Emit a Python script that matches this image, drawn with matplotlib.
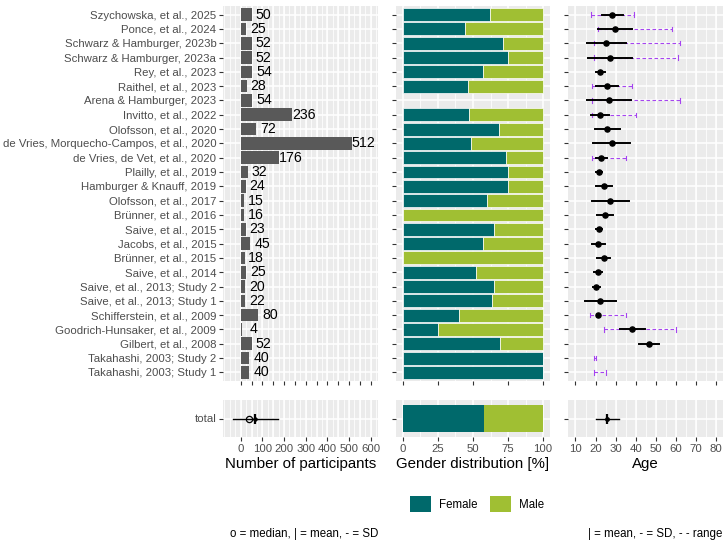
import matplotlib
matplotlib.use("Agg")
import matplotlib.pyplot as plt
import numpy as np
from matplotlib.patches import Patch
from matplotlib.ticker import NullFormatter

plt.rcParams['font.family'] = ['Liberation Sans', 'DejaVu Sans']

studies = [
    "Szychowska, et al., 2025", "Ponce, et al., 2024", "Schwarz & Hamburger, 2023b",
    "Schwarz & Hamburger, 2023a", "Rey, et al., 2023", "Raithel, et al., 2023",
    "Arena & Hamburger, 2023", "Invitto, et al., 2022", "Olofsson, et al., 2020",
    "de Vries, Morquecho-Campos, et al., 2020", "de Vries, de Vet, et al., 2020",
    "Plailly, et al., 2019", "Hamburger & Knauff, 2019", "Olofsson, et al., 2017",
    "Brünner, et al., 2016", "Saive, et al., 2015", "Jacobs, et al., 2015",
    "Brünner, et al., 2015", "Saive, et al., 2014", "Saive, et al., 2013; Study 2",
    "Saive, et al., 2013; Study 1", "Schifferstein, et al., 2009",
    "Goodrich-Hunsaker, et al., 2009", "Gilbert, et al., 2008",
    "Takahashi, 2003; Study 2", "Takahashi, 2003; Study 1",
]
participants = [50, 25, 52, 52, 54, 28, 54, 236, 72, 512, 176, 32, 24, 15, 16, 23,
                45, 18, 25, 20, 22, 80, 4, 52, 40, 40]
female_pct = [62, 44, 71.2, 75, 57.4, 46.4, np.nan, 47.5, 68.7, 48.8, 73.3, 75, 75,
              60, 0, 65.2, 57.1, 0, 52, 65, 63.6, 40, 25, 69.2, 100, 100]
age_mean = [28.4, 29.7, 25.2, 27.0, 22.4, 25.5, 26.7, 22.2, 25.9, 28.0, 22.9, 21.7,
            24.1, 27.4, 24.6, 21.6, 21.4, 24.1, 21.2, 20.4, 22.4, 21.1, 38.3, 46.5,
            np.nan, np.nan]
age_sd = [5.4, 8.6, 9.7, 10.9, 2.1, 5.4, 11.0, 4.7, 6.0, 9.1, 2.8, 1.6, 4.0, 9.2,
          4.0, 1.5, 3.4, 3.3, 2.1, 1.8, 7.9, np.nan, 6.2, 4.8, np.nan, np.nan]
age_min = [17.5, 21, 19, 19, np.nan, 18, 18, 18, np.nan, np.nan, 18, np.nan, np.nan,
           np.nan, np.nan, np.nan, np.nan, np.nan, np.nan, np.nan, np.nan, 17, 24,
           np.nan, 19, 19]
age_max = [39, 58, 62, 61, np.nan, 38, 62, 40, np.nan, np.nan, 35, np.nan, np.nan,
           np.nan, np.nan, np.nan, np.nan, np.nan, np.nan, np.nan, np.nan, 35, 60,
           np.nan, 20, 25]
total_female_pct = 57.8
total_age_mean = 25.8
total_age_sd = 5.7

FEMALE = "#00696B"
MALE = "#A0BF33"
BG = "#EBEBEB"
TXT = "#4D4D4D"
TICK = "#333333"
RANGE_COL = "#A645F0"
LAB = 8.2

W, H = 726, 543
fig = plt.figure(figsize=(W / 100, H / 100), dpi=100)


def ax_px(x0, y0, x1, y1):
    return fig.add_axes([x0 / W, 1 - y1 / H, (x1 - x0) / W, (y1 - y0) / H])


def style(ax, xlim, ticks, grid_major, grid_minor, ylim, yticks, ylabels=None,
          xlabels=None):
    ax.set_facecolor(BG)
    for s in ax.spines.values():
        s.set_visible(False)
    ax.set_xlim(*xlim)
    ax.set_ylim(*ylim)
    for m in grid_minor:
        ax.axvline(m, color="white", lw=0.55, zorder=0)
    for m in grid_major:
        ax.axvline(m, color="white", lw=1.1, zorder=0)
    for yy in yticks:
        ax.axhline(yy, color="white", lw=1.1, zorder=0)
    ax.set_xticks(ticks)
    if xlabels is None:
        ax.xaxis.set_major_formatter(NullFormatter())
    else:
        ax.set_xticklabels(xlabels)
    ax.set_yticks(yticks)
    if ylabels is None:
        ax.yaxis.set_major_formatter(NullFormatter())
    else:
        ax.set_yticklabels(ylabels)
    ax.tick_params(axis="both", length=2.8, width=0.8, color=TICK, labelcolor=TXT,
                   labelsize=LAB, pad=2.0)


n = len(studies)
ypos = np.arange(n)[::-1]
ylim_top = (-0.6, n - 1 + 0.6)
ylim_bot = (-0.6, 0.6)

# ---------- Panel 1: participants ----------
p_xlim = (-81.5, 633.5)
p_major = np.arange(0, 601, 50)
p_minor = np.arange(-75, 626, 25)
ax1 = ax_px(223, 6, 378, 381)
style(ax1, p_xlim, p_major, p_major, p_minor, ylim_top, ypos, ylabels=studies)
ax1.barh(ypos, participants, height=0.88, color="#595959", zorder=2)
for yy, v in zip(ypos, participants):
    ax1.text(v + 54, yy, str(v), ha="center", va="center", fontsize=10.2,
             color="black", zorder=3)

ax1b = ax_px(223, 400, 378, 437)
p_ticks = np.arange(0, 601, 100)
style(ax1b, p_xlim, p_ticks, p_major, p_minor, ylim_bot, [0],
      ylabels=["total"], xlabels=[str(v) for v in p_ticks])
p_arr = np.array(participants, dtype=float)
p_mean = p_arr.mean()
p_med = np.median(p_arr)
p_sd = p_arr.std(ddof=1)
ax1b.plot([p_mean - p_sd, p_mean + p_sd], [0, 0], color="black", lw=1.0, zorder=3)
ax1b.plot([p_med], [0], marker="o", mfc="none", mec="black", ms=4.5, mew=0.9, zorder=4)
ax1b.plot([p_mean], [0], marker="|", color="black", ms=7, mew=1.6, zorder=4)
ax1b.plot([p_mean], [0], marker="o", color="black", ms=2.2, zorder=4)
ax1b.set_xlabel("Number of participants", fontsize=10.8, color="black", labelpad=2.5)

# ---------- Panel 2: gender ----------
g_xlim = (-5, 105)
g_major = [0, 25, 50, 75, 100]
g_minor = np.arange(12.5, 100, 25)
ax2 = ax_px(396, 6, 550, 381)
style(ax2, g_xlim, g_major, g_major, g_minor, ylim_top, ypos)
fem = np.array(female_pct, dtype=float)
ax2.barh(ypos, fem, height=0.9, color=FEMALE, edgecolor="white", lw=0.5, zorder=2)
ax2.barh(ypos, 100 - fem, left=fem, height=0.9, color=MALE, edgecolor="white",
         lw=0.5, zorder=2)

ax2b = ax_px(396, 400, 550, 437)
style(ax2b, g_xlim, g_major, g_major, g_minor, ylim_bot, [0],
      xlabels=[str(v) for v in g_major])
ax2b.barh([0], [total_female_pct], height=0.9, color=FEMALE, zorder=2)
ax2b.barh([0], [100 - total_female_pct], left=[total_female_pct], height=0.9,
          color=MALE, zorder=2)
ax2b.set_xlabel("Gender distribution [%]", fontsize=10.8, color="black", labelpad=2.5)

# ---------- Panel 3: age ----------
a_xlim = (6.3, 83.3)
a_major = np.arange(10, 81, 10)
a_minor = np.arange(5, 86, 5)
ax3 = ax_px(568, 6, 723, 381)
style(ax3, a_xlim, a_major, a_major, a_minor, ylim_top, ypos)
am = np.array(age_mean, dtype=float)
asd = np.array(age_sd, dtype=float)
amin = np.array(age_min, dtype=float)
amax = np.array(age_max, dtype=float)
cap = 0.15
for yy, lo, hi in zip(ypos, amin, amax):
    if np.isnan(lo):
        continue
    ax3.plot([lo, hi], [yy, yy], color=RANGE_COL, lw=0.8, ls=(0, (3.2, 2.2)), zorder=2)
    ax3.plot([lo, lo], [yy - cap, yy + cap], color=RANGE_COL, lw=0.8, zorder=2)
    ax3.plot([hi, hi], [yy - cap, yy + cap], color=RANGE_COL, lw=0.8, zorder=2)
for yy, m, s in zip(ypos, am, asd):
    if np.isnan(m):
        continue
    if not np.isnan(s):
        ax3.plot([m - s, m + s], [yy, yy], color="black", lw=1.4, zorder=3)
    ax3.plot([m], [yy], marker="o", color="black", ms=3.7, zorder=4)

ax3b = ax_px(568, 400, 723, 437)
style(ax3b, a_xlim, a_major, a_major, a_minor, ylim_bot, [0],
      xlabels=[str(v) for v in a_major])
ax3b.plot([total_age_mean - total_age_sd, total_age_mean + total_age_sd], [0, 0],
          color="black", lw=1.0, zorder=3)
ax3b.plot([total_age_mean], [0], marker="|", color="black", ms=7, mew=1.6, zorder=4)
ax3b.plot([total_age_mean], [0], marker="o", color="black", ms=2.5, zorder=4)
ax3b.set_xlabel("Age", fontsize=10.8, color="black", labelpad=2.5)

# ---------- Legend & notes ----------
handles = [Patch(facecolor=FEMALE, label="Female"), Patch(facecolor=MALE, label="Male")]
fig.legend(handles=handles, loc="center", bbox_to_anchor=(477 / W, 1 - 504 / H),
           ncol=2, frameon=False, fontsize=8.3, handlelength=1.8, handleheight=1.8,
           handletextpad=0.7, columnspacing=1.1)

fig.text(378 / W, 1 - 534 / H, "o = median, | = mean, - = SD", ha="right",
         va="center", fontsize=8.3, color="black")
fig.text(722 / W, 1 - 534 / H, "| = mean, - = SD, - - range", ha="right",
         va="center", fontsize=8.3, color="black")

fig.savefig("out.png", dpi=100, facecolor="white")
